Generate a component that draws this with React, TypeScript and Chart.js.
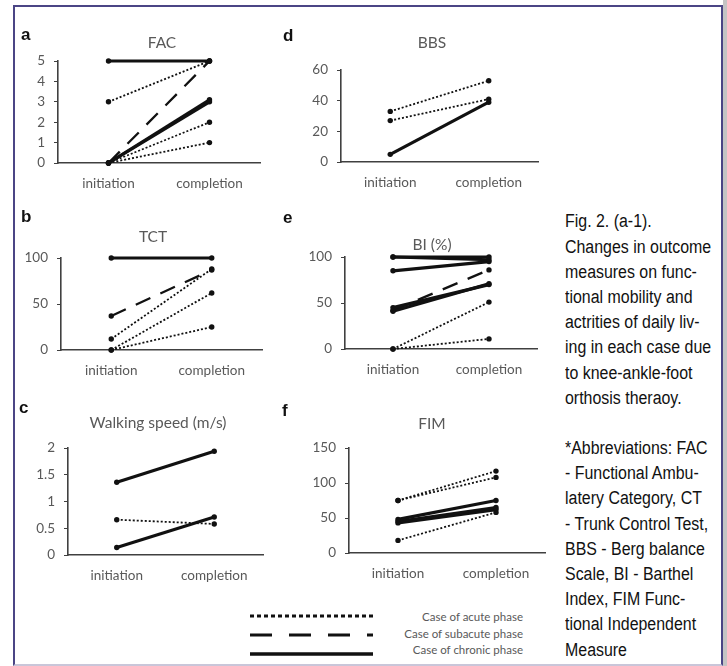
import React, { useEffect, useRef } from "react";
import { Chart, registerables } from "chart.js";

Chart.register(...registerables);

// ---------- data ----------
const categories = ["initiation", "completion"];

// a: FAC
const facTicks = { min: 0, max: 5, step: 1 };
const facAcute1 = [3, 5];
const facAcute2 = [0, 2];
const facAcute3 = [0, 1];
const facSubacute = [0, 5];
const facChronic1 = [5, 5];
const facChronic2 = [0, 3];
const facChronic3 = [0, 3.1];

// b: TCT
const tctTicks = { min: 0, max: 100, step: 50 };
const tctAcute1 = [12, 88];
const tctAcute2 = [0, 62];
const tctAcute3 = [0, 25];
const tctSubacute = [37, 87];
const tctChronic1 = [100, 100];

// c: Walking speed
const wsTicks = { min: 0, max: 2, step: 0.5 };
const wsAcute1 = [0.66, 0.58];
const wsChronic1 = [1.36, 1.94];
const wsChronic2 = [0.14, 0.71];

// d: BBS
const bbsTicks = { min: 0, max: 60, step: 20 };
const bbsAcute1 = [33, 53];
const bbsAcute2 = [27, 41];
const bbsChronic1 = [5, 39];

// e: BI (%)
const biTicks = { min: 0, max: 100, step: 50 };
const biAcute1 = [0, 51];
const biAcute2 = [0, 11];
const biSubacute = [42, 86];
const biChronic1 = [100, 100];
const biChronic2 = [100, 97];
const biChronic3 = [85, 95];
const biChronic4 = [45, 70];
const biChronic5 = [41, 71];

// f: FIM
const fimTicks = { min: 0, max: 150, step: 50 };
const fimAcute1 = [75, 117];
const fimAcute2 = [75, 108];
const fimAcute3 = [18, 58];
const fimChronic1 = [48, 75];
const fimChronic2 = [45, 65];
const fimChronic3 = [43, 62];

const legendLabels = ["Case of acute phase", "Case of subacute phase", "Case of chronic phase"];

const captionLines = [
  "Fig. 2. (a-1).",
  "Changes in outcome",
  "measures on func-",
  "tional mobility and",
  "actrities of daily liv-",
  "ing in each case due",
  "to knee-ankle-foot",
  "orthosis theraoy.",
  "",
  "*Abbreviations: FAC",
  "- Functional Ambu-",
  "latery Category, CT",
  "- Trunk Control Test,",
  "BBS - Berg balance",
  "Scale, BI - Barthel",
  "Index, FIM Func-",
  "tional Independent",
  "Measure",
];

// ---------- styles ----------
type Phase = "acute" | "subacute" | "chronic";
const PHASE: Record<Phase, { dash: number[]; width: number }> = {
  acute: { dash: [2, 2], width: 1.8 },
  subacute: { dash: [16, 11], width: 2.3 },
  chronic: { dash: [], width: 3.2 },
};

const FONT = "Lato, 'Open Sans', sans-serif";
const GRAY = "#595959";
const AXIS = "#404040";

type Series = { data: number[]; phase: Phase };
type PanelCfg = {
  letter: string;
  title: string;
  ticks: { min: number; max: number; step: number };
  series: Series[];
  // chart-area geometry on page
  L: number; R: number; T: number; B: number; TY: number; TX: number;
  letterX: number; letterY: number;
};

const YW = 40;
const XH = 32;
const TITLE_SIZE = 15.5;
const TITLE_LH = TITLE_SIZE * 1.2;

const panels: PanelCfg[] = [
  {
    letter: "a", title: "FAC", ticks: facTicks,
    series: [
      { data: facChronic1, phase: "chronic" },
      { data: facChronic2, phase: "chronic" },
      { data: facChronic3, phase: "chronic" },
      { data: facSubacute, phase: "subacute" },
      { data: facAcute1, phase: "acute" },
      { data: facAcute2, phase: "acute" },
      { data: facAcute3, phase: "acute" },
    ],
    L: 58, R: 260, T: 61, B: 163, TY: 43, TX: 162, letterX: 21, letterY: 35,
  },
  {
    letter: "d", title: "BBS", ticks: bbsTicks,
    series: [
      { data: bbsChronic1, phase: "chronic" },
      { data: bbsAcute1, phase: "acute" },
      { data: bbsAcute2, phase: "acute" },
    ],
    L: 341, R: 538, T: 70, B: 162, TY: 43, TX: 432, letterX: 283, letterY: 36,
  },
  {
    letter: "b", title: "TCT", ticks: tctTicks,
    series: [
      { data: tctChronic1, phase: "chronic" },
      { data: tctSubacute, phase: "subacute" },
      { data: tctAcute1, phase: "acute" },
      { data: tctAcute2, phase: "acute" },
      { data: tctAcute3, phase: "acute" },
    ],
    L: 61, R: 262, T: 258, B: 350, TY: 237, TX: 153, letterX: 21, letterY: 217,
  },
  {
    letter: "e", title: "BI (%)", ticks: biTicks,
    series: [
      { data: biChronic1, phase: "chronic" },
      { data: biChronic2, phase: "chronic" },
      { data: biChronic3, phase: "chronic" },
      { data: biChronic4, phase: "chronic" },
      { data: biChronic5, phase: "chronic" },
      { data: biSubacute, phase: "subacute" },
      { data: biAcute1, phase: "acute" },
      { data: biAcute2, phase: "acute" },
    ],
    L: 345, R: 537, T: 257, B: 349, TY: 245, TX: 432, letterX: 283, letterY: 218,
  },
  {
    letter: "c", title: "Walking speed (m/s)", ticks: wsTicks,
    series: [
      { data: wsChronic1, phase: "chronic" },
      { data: wsChronic2, phase: "chronic" },
      { data: wsAcute1, phase: "acute" },
    ],
    L: 68, R: 263, T: 448, B: 555, TY: 423, TX: 158, letterX: 19, letterY: 408,
  },
  {
    letter: "f", title: "FIM", ticks: fimTicks,
    series: [
      { data: fimChronic1, phase: "chronic" },
      { data: fimChronic2, phase: "chronic" },
      { data: fimChronic3, phase: "chronic" },
      { data: fimAcute1, phase: "acute" },
      { data: fimAcute2, phase: "acute" },
      { data: fimAcute3, phase: "acute" },
    ],
    L: 349, R: 545, T: 448, B: 553, TY: 424, TX: 432, letterX: 282, letterY: 411,
  },
];

function Panel({ cfg }: { cfg: PanelCfg }) {
  const ref = useRef<HTMLCanvasElement | null>(null);
  const left = cfg.L - YW;
  const right = 2 * cfg.TX - left;
  const padR = right - cfg.R;
  const top = Math.round(cfg.TY - TITLE_LH / 2);
  const padTitleBottom = cfg.T - top - TITLE_LH;
  const width = right - left;
  const height = cfg.B - top + XH;

  useEffect(() => {
    if (!ref.current) return;
    const chart = new Chart(ref.current, {
      type: "line",
      data: {
        labels: categories,
        datasets: cfg.series.map((s) => ({
          data: s.data,
          borderColor: "#111",
          backgroundColor: "#111",
          borderWidth: PHASE[s.phase].width,
          borderDash: PHASE[s.phase].dash,
          pointRadius: 2.7,
          pointBorderWidth: 0,
          pointBackgroundColor: "#111",
          fill: false,
          tension: 0,
          clip: 6,
        })),
      },
      options: {
        responsive: false,
        animation: false,
        layout: { padding: 0 },
        plugins: {
          legend: { display: false },
          tooltip: { enabled: false },
          title: {
            display: true,
            text: cfg.title,
            color: GRAY,
            font: { family: FONT, size: TITLE_SIZE, weight: "normal", lineHeight: 1.2 },
            padding: { top: 0, bottom: padTitleBottom },
          },
        },
        scales: {
          x: {
            type: "category",
            offset: true,
            grid: { display: false },
            border: { display: true, color: AXIS, width: 1.6 },
            ticks: { color: GRAY, font: { family: FONT, size: 13.5 }, padding: 5, maxRotation: 0 },
            afterFit: (s: any) => { s.height = XH; },
          },
          y: {
            min: cfg.ticks.min,
            max: cfg.ticks.max,
            ticks: {
              stepSize: cfg.ticks.step,
              color: GRAY,
              font: { family: FONT, size: 13.5 },
              padding: 9,
              callback: (v: any) => String(Number(v)),
            },
            grid: { display: true, drawOnChartArea: false, tickLength: 4, color: AXIS, lineWidth: 1 },
            border: { display: true, color: AXIS, width: 1.6 },
            afterFit: (s: any) => { s.width = YW; },
          },
          // blank right-hand box: reserves the empty space right of the plot
          pad: {
            type: "linear",
            position: "right",
            display: true,
            grid: { display: false },
            border: { display: false },
            ticks: { display: false },
            afterFit: (s: any) => { s.width = padR; },
          },
        },
      } as any,
    });
    return () => chart.destroy();
  }, []);

  return (
    <>
      <canvas
        ref={ref}
        width={width}
        height={height}
        style={{ position: "absolute", left, top, width, height }}
      />
      <div
        style={{
          position: "absolute",
          left: cfg.letterX,
          top: cfg.letterY - 10,
          height: 20,
          lineHeight: "20px",
          font: "bold 17px 'Liberation Sans', Arial, sans-serif",
          color: "#111",
        }}
      >
        {cfg.letter}
      </div>
    </>
  );
}

function Legend() {
  const ys = [616, 635, 654];
  const styles: Phase[] = ["acute", "subacute", "chronic"];
  const dashes = ["4 3", "22 17", ""];
  const widths = [3, 2.8, 3.4];
  return (
    <>
      <svg
        width={140}
        height={66}
        style={{ position: "absolute", left: 240, top: 600 }}
      >
        {styles.map((s, i) => (
          <line
            key={s}
            x1={10}
            x2={133}
            y1={ys[i] - 600}
            y2={ys[i] - 600}
            stroke="#111"
            strokeWidth={widths[i]}
            strokeDasharray={dashes[i] || undefined}
          />
        ))}
      </svg>
      <div
        style={{
          position: "absolute",
          left: 370,
          top: 609,
          width: 153,
          textAlign: "right",
          font: `11.5px ${FONT}`,
          lineHeight: "16.5px",
          color: GRAY,
        }}
      >
        {legendLabels.map((t) => (
          <div key={t}>{t}</div>
        ))}
      </div>
    </>
  );
}

const CAP_LH = 25.2;

export default function App() {
  return (
    <div
      style={{
        position: "absolute",
        left: 0,
        top: 0,
        width: 727,
        height: 666,
        background: "#fff",
        overflow: "hidden",
      }}
    >
      <div
        style={{
          position: "absolute",
          left: 13,
          top: 5,
          width: 710,
          height: 661,
          boxSizing: "border-box",
          borderLeft: "2.5px solid #4b4585",
          borderTop: "2.5px solid #4b4585",
          borderRight: "2.5px solid #4b4585",
          borderBottom: "2.5px solid #c9c6d9",
        }}
      />
      <div style={{ position: "absolute", left: 723, top: 0, width: 4, height: 666, background: "#c4c4c4" }} />
      {panels.map((p) => (
        <Panel key={p.letter} cfg={p} />
      ))}
      <div
        style={{
          position: "absolute",
          left: 565,
          top: 222 - CAP_LH / 2,
          font: "18px 'Liberation Sans', Arial, sans-serif",
          lineHeight: `${CAP_LH}px`,
          color: "#111",
          transform: "scaleX(0.885)",
          transformOrigin: "left top",
          whiteSpace: "pre",
        }}
      >
        {captionLines.map((t, i) => (
          <div key={i} style={{ height: CAP_LH }}>{t || " "}</div>
        ))}
      </div>
      <Legend />
    </div>
  );
}
